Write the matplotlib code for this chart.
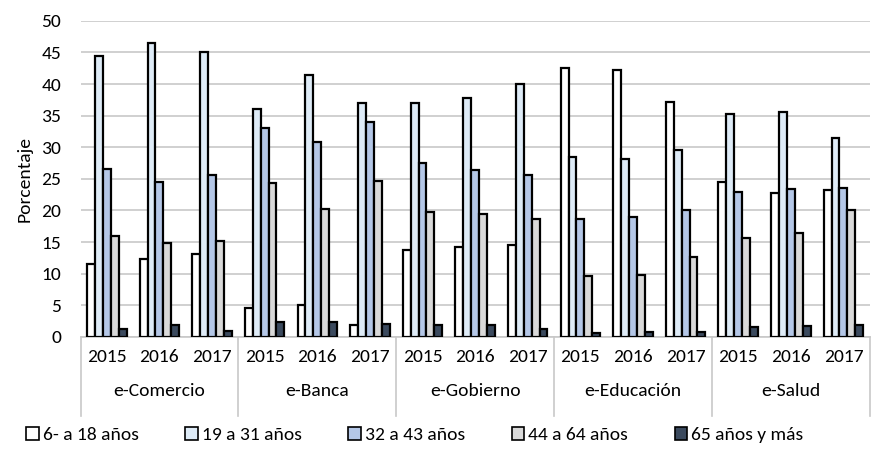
import numpy as np
import matplotlib.pyplot as plt
import matplotlib.transforms as mtransforms
from matplotlib.patches import Patch

plt.rcParams['font.family'] = ['Carlito', 'Lato', 'DejaVu Sans']

categories = ["e-Comercio", "e-Banca", "e-Gobierno", "e-Educación", "e-Salud"]
years = ["2015", "2016", "2017"]
series = ["6- a 18 años", "19 a 31 años", "32 a 43 años", "44 a 64 años", "65 años y más"]

# values per series, ordered category-major, year-minor
s_6_18 = [11.5, 12.3, 13.1, 4.5, 5.0, 1.8, 13.7, 14.2, 14.5, 42.5, 42.2, 37.2, 24.5, 22.7, 23.3]
s_19_31 = [44.5, 46.5, 45.0, 36.0, 41.5, 37.0, 37.0, 37.8, 40.0, 28.4, 28.2, 29.5, 35.3, 35.6, 31.4]
s_32_43 = [26.5, 24.5, 25.6, 33.0, 30.8, 34.0, 27.5, 26.4, 25.6, 18.7, 19.0, 20.0, 23.0, 23.4, 23.5]
s_44_64 = [16.0, 14.8, 15.2, 24.3, 20.3, 24.7, 19.8, 19.5, 18.7, 9.7, 9.8, 12.7, 15.6, 16.4, 20.0]
s_65 = [1.3, 1.8, 1.0, 2.3, 2.3, 2.1, 1.8, 1.8, 1.3, 0.6, 0.7, 0.7, 1.5, 1.7, 1.8]

data = [s_6_18, s_19_31, s_32_43, s_44_64, s_65]
colors = ["#ffffff", "#deebf7", "#b4c7e7", "#d9d9d9", "#3b4a5e"]

fig = plt.figure(figsize=(8.75, 4.54), dpi=100)
ax = fig.add_axes([0.092, 0.258, 0.902, 0.696])

n = len(categories) * len(years)
x = np.arange(n)
w = 0.15
for i, (vals, c, lab) in enumerate(zip(data, colors, series)):
    ax.bar(x + (i - 2) * w, vals, w, color=c, edgecolor="black", linewidth=1.6,
           label=lab, zorder=3)

fs = 14
ax.set_xlim(-0.5, n - 0.5)
ax.set_ylim(0, 50)
ax.set_yticks(range(0, 51, 5))
ax.yaxis.grid(True, color="#c8c8c8", linewidth=1.2, zorder=0)
ax.set_ylabel("Porcentaje", fontsize=fs, labelpad=6)
for s in ax.spines.values():
    s.set_visible(False)
ax.tick_params(axis="both", length=0, labelsize=fs)
ax.tick_params(axis="y", pad=14)
ax.tick_params(axis="x", pad=9)
ax.set_xticks(x)
ax.set_xticklabels(years * len(categories))

trans = mtransforms.blended_transform_factory(ax.transData, ax.transAxes)
ax.plot([-0.5, n - 0.5], [0, 0], transform=trans, color="#c8c8c8", lw=1.2, clip_on=False)
for k in range(len(categories) + 1):
    xs = k * 3 - 0.5
    ax.plot([xs, xs], [0, -0.25], transform=trans, color="#c8c8c8", lw=1.2, clip_on=False)
for k, cat in enumerate(categories):
    ax.text(k * 3 + 1, -0.172, cat, transform=trans, ha="center", va="center", fontsize=fs)

handles = [Patch(facecolor=c, edgecolor="black", linewidth=1.2, label=l) for c, l in zip(colors, series)]
fig.legend(handles=handles, loc="center", bbox_to_anchor=(0.474, 0.042), ncol=5, frameon=False,
           fontsize=fs, handlelength=0.65, handleheight=0.65, handletextpad=0.2, columnspacing=2.4)

fig.savefig("out.png", dpi=100)
